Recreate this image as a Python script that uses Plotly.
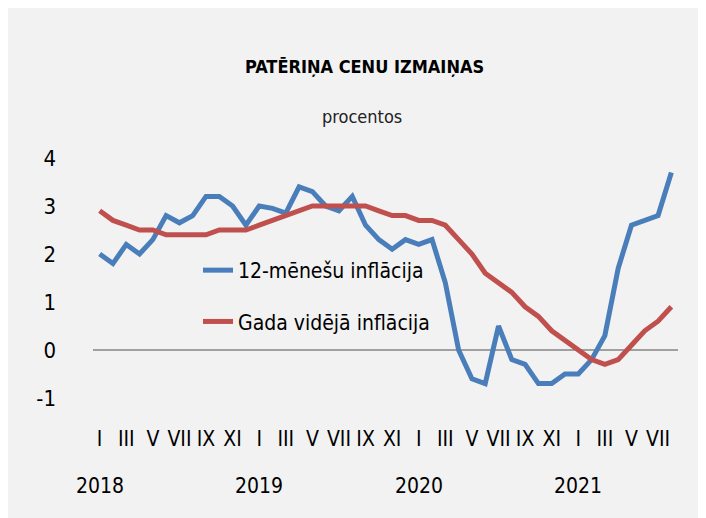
import plotly.graph_objects as go

# ---- data ----
months_idx = list(range(44))  # Jan 2018 .. Aug 2021
inflation_12m = [
    2.0, 1.8, 2.2, 2.0, 2.3, 2.8, 2.65, 2.8, 3.2, 3.2, 3.0, 2.6,
    3.0, 2.95, 2.85, 3.4, 3.3, 3.0, 2.9, 3.2, 2.6, 2.3, 2.1, 2.3,
    2.2, 2.3, 1.4, 0.0, -0.6, -0.7, 0.5, -0.2, -0.3, -0.7, -0.7, -0.5,
    -0.5, -0.2, 0.3, 1.7, 2.6, 2.7, 2.8, 3.7,
]
inflation_avg = [
    2.9, 2.7, 2.6, 2.5, 2.5, 2.4, 2.4, 2.4, 2.4, 2.5, 2.5, 2.5,
    2.6, 2.7, 2.8, 2.9, 3.0, 3.0, 3.0, 3.0, 3.0, 2.9, 2.8, 2.8,
    2.7, 2.7, 2.6, 2.3, 2.0, 1.6, 1.4, 1.2, 0.9, 0.7, 0.4, 0.2,
    0.0, -0.2, -0.3, -0.2, 0.1, 0.4, 0.6, 0.9,
]
roman_labels = ["I", "III", "V", "VII", "IX", "XI"]
year_labels = ["2018", "2019", "2020", "2021"]
series_names = ["12-mēnešu inflācija", "Gada vidējā inflācija"]
title_text = "PATĒRIŅA CENU IZMAIŅAS"
subtitle_text = "procentos"
y_ticks = [-1, 0, 1, 2, 3, 4]
y_ticktext = ["-1", "0", "1", "2", "3", "4"]

FONT = "DejaVu Sans Condensed, Liberation Sans Narrow, Liberation Sans, sans-serif"
BLUE = "#4a7ebb"
RED = "#c0504d"

W, H = 706, 518
ML, MR, MT, MB = 85, 36, 150, 128
PW, PH = W - ML - MR, H - MT - MB

tickvals = [i for i in months_idx if i % 2 == 0]
ticktext = [roman_labels[(i % 12) // 2] for i in tickvals]

fig = go.Figure()
fig.add_trace(go.Scatter(x=months_idx, y=inflation_12m, mode="lines", name=series_names[0],
                         legendgroup="a", line=dict(color=BLUE, width=5)))
fig.add_trace(go.Scatter(x=months_idx, y=inflation_avg, mode="lines", name=series_names[1],
                         legendgroup="b", line=dict(color=RED, width=5)))

def px_x(p):
    return (p - ML) / PW

def px_y(p):
    return (H - MB - p) / PH

annotations = [
    dict(text="<b>" + title_text + "</b>", x=px_x(356.5), y=px_y(58), xref="paper", yref="paper",
         showarrow=False, xanchor="center", yanchor="middle",
         font=dict(family=FONT, size=18, color="#000000")),
    dict(text=subtitle_text, x=px_x(354), y=px_y(108.5), xref="paper", yref="paper",
         showarrow=False, xanchor="center", yanchor="middle",
         font=dict(family=FONT, size=18, color="#222222")),
]
for k, yl in enumerate(year_labels):
    annotations.append(dict(text=yl, x=k * 12, y=px_y(478), xref="x", yref="paper",
                            showarrow=False, xanchor="center", yanchor="middle",
                            font=dict(family=FONT, size=21, color="#000000")))

fig.update_layout(
    width=W, height=H,
    margin=dict(l=ML, r=MR, t=MT, b=MB, pad=0),
    paper_bgcolor="#f2f2f2",
    plot_bgcolor="rgba(0,0,0,0)",
    font=dict(family=FONT, size=21, color="#000000"),
    showlegend=True,
    legend=dict(x=px_x(190), y=px_y(242), xanchor="left", yanchor="top",
                bgcolor="rgba(0,0,0,0)", borderwidth=0, traceorder="grouped",
                tracegroupgap=21, font=dict(family=FONT, size=21, color="#000000")),
    xaxis=dict(range=[-0.5, 43.5], tickmode="array", tickvals=tickvals, ticktext=ticktext,
               showgrid=False, zeroline=False, showline=False, ticks="",
               ticklabelstandoff=26, tickangle=0, fixedrange=True,
               tickfont=dict(family=FONT, size=21, color="#000000")),
    yaxis=dict(range=[-1, 4], tickmode="array", tickvals=y_ticks, ticktext=y_ticktext,
               showgrid=False, zeroline=True, zerolinecolor="#a0a0a0", zerolinewidth=2,
               showline=False, ticks="", ticklabelstandoff=36, fixedrange=True,
               tickfont=dict(family=FONT, size=22, color="#000000")),
    annotations=annotations,
)

fig.write_html("out.html")
